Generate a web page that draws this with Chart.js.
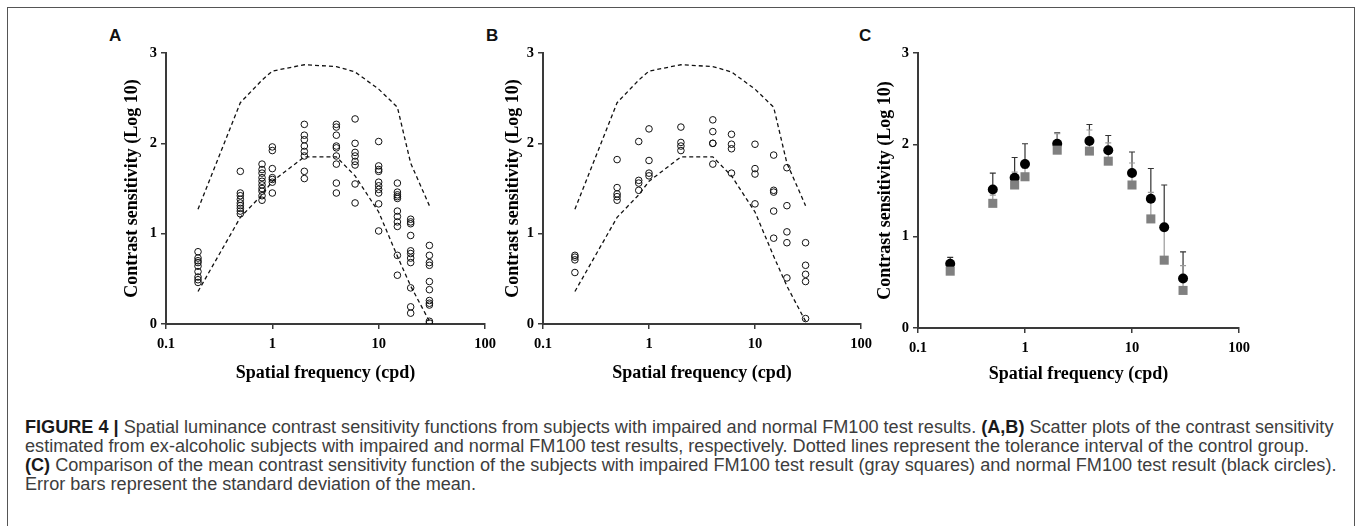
<!DOCTYPE html>
<html>
<head>
<meta charset="utf-8">
<script src="https://cdn.jsdelivr.net/npm/chart.js@4"></script>
<style>
  html, body { margin: 0; padding: 0; background: #fff; }
  body { width: 1360px; height: 526px; position: relative; overflow: hidden; }
  #frame { position: absolute; left: 7px; top: 7px; width: 1348px; height: 540px;
           border: 1.5px solid #555; box-sizing: border-box; }
  canvas { position: absolute; }
  .letter { position: absolute; font: bold 17px "Liberation Sans", Arial, sans-serif;
            line-height: 17px; color: #111; }
  #caption { position: absolute; left: 25px; top: 418px; white-space: nowrap;
             font-family: "Liberation Sans", Arial, sans-serif; color: #3d3d3d; line-height: 19.1px; }
  #caption b { color: #1a1a1a; }
</style>
</head>
<body>
<div id="frame"></div>
<div class="letter" style="left:109px; top:27px">A</div>
<div class="letter" style="left:486px; top:27px">B</div>
<div class="letter" style="left:859px; top:27px">C</div>
<canvas id="chartA" width="420" height="350" style="left:90px; top:40px"></canvas>
<canvas id="chartB" width="419" height="350" style="left:467px; top:40px"></canvas>
<canvas id="chartC" width="422" height="354" style="left:842px; top:40px"></canvas>
<div id="caption">
<b>FIGURE 4 |</b> Spatial luminance contrast sensitivity functions from subjects with impaired and normal FM100 test results. <b>(A,B)</b> Scatter plots of the contrast sensitivity<br>
estimated from ex-alcoholic subjects with impaired and normal FM100 test results, respectively. Dotted lines represent the tolerance interval of the control group.<br>
<b>(C)</b> Comparison of the mean contrast sensitivity function of the subjects with impaired FM100 test result (gray squares) and normal FM100 test result (black circles).<br>
Error bars represent the standard deviation of the mean.
</div>
<script>
// spatial frequencies (cpd) and axis ticks
const freqs = [0.2, 0.5, 0.8, 1, 2, 4, 6, 10, 15, 20, 30];
const xTicks = [0.1, 1, 10, 100];
const yTicks = [0, 1, 2, 3];

// tolerance interval of the control group (dotted lines)
const upperLimit = [1.27, 2.45, 2.70, 2.80, 2.87, 2.85, 2.79, 2.60, 2.40, 1.78, 1.31];
const lowerLimit = [0.36, 1.18, 1.43, 1.58, 1.85, 1.85, 1.64, 1.24, 0.75, 0.42, 0.03];

// A: impaired FM100, one list per frequency
const scatterA = [
  [0.80, 0.73, 0.70, 0.68, 0.64, 0.58, 0.52, 0.49, 0.46],
  [1.69, 1.45, 1.42, 1.38, 1.34, 1.31, 1.28, 1.25, 1.22],
  [1.77, 1.71, 1.67, 1.62, 1.58, 1.54, 1.50, 1.47, 1.42, 1.37],
  [1.96, 1.92, 1.72, 1.62, 1.60, 1.57, 1.45],
  [2.21, 2.09, 2.04, 1.97, 1.91, 1.86, 1.69, 1.61],
  [2.21, 2.18, 2.09, 1.97, 1.95, 1.86, 1.77, 1.56, 1.45],
  [2.27, 2.00, 1.90, 1.86, 1.80, 1.76, 1.55, 1.34],
  [2.02, 1.75, 1.71, 1.69, 1.57, 1.53, 1.49, 1.45, 1.33, 1.03],
  [1.56, 1.46, 1.43, 1.41, 1.39, 1.25, 1.19, 1.13, 1.08, 0.76, 0.54],
  [1.16, 1.13, 1.11, 0.98, 0.81, 0.78, 0.73, 0.68, 0.40, 0.19, 0.12],
  [0.87, 0.76, 0.68, 0.65, 0.47, 0.38, 0.26, 0.23, 0.21, 0.03, 0.01]
];

// B: normal FM100
const scatterB = [
  [0.76, 0.74, 0.71, 0.57],
  [1.82, 1.51, 1.44, 1.41, 1.37],
  [2.02, 1.59, 1.56, 1.48],
  [2.16, 1.81, 1.67, 1.64],
  [2.18, 2.01, 1.97, 1.92],
  [2.26, 2.13, 2.00, 2.00, 1.77],
  [2.10, 1.99, 1.94, 1.67],
  [1.99, 1.72, 1.66, 1.33],
  [1.87, 1.48, 1.46, 1.25, 0.95],
  [1.73, 1.31, 1.02, 0.90, 0.51],
  [0.90, 0.65, 0.55, 0.47, 0.06]
];

// C: group means and SD
const normalMean   = [0.70, 1.51, 1.64, 1.79, 2.01, 2.04, 1.94, 1.69, 1.41, 1.10, 0.54];
const normalSD     = [0.07, 0.18, 0.22, 0.22, 0.12, 0.18, 0.16, 0.23, 0.33, 0.46, 0.29];
const impairedMean = [0.62, 1.36, 1.56, 1.65, 1.94, 1.93, 1.82, 1.56, 1.19, 0.74, 0.41];
const impairedSD   = [0.09, 0.09, 0.14, 0.09, 0.18, 0.23, 0.20, 0.24, 0.29, 0.32, 0.27];

const axisColor = '#3a3a3a';
const tickFont = {family: 'Liberation Serif', weight: 'bold', size: 14.5};
const titleFont = {family: 'Liberation Serif', weight: 'bold', size: 18};

function toPoints(xs, ys){
    return xs.map((x, i) => ({x: x, y: ys[i]}));
}

function columnPoints(cols){
    const pts = [];
    freqs.forEach((f, i) => cols[i].forEach(v => pts.push({x: f, y: v})));
    return pts;
}

// upward error bars, drawn under the markers
const errorBars = {
    id: 'errorBars',
    beforeDatasetsDraw(chart){
        const {ctx, scales: {x, y}} = chart;
        for(let i = chart.data.datasets.length - 1; i >= 0; i--){
            const ds = chart.data.datasets[i];
            if(!ds.sd) continue;
            ctx.save();
            ctx.strokeStyle = ds.barColor;
            ctx.lineWidth = 1.2;
            ds.data.forEach((p, j) => {
                const px = x.getPixelForValue(p.x);
                const y0 = y.getPixelForValue(p.y);
                const y1 = y.getPixelForValue(p.y + ds.sd[j]);
                ctx.beginPath();
                ctx.moveTo(px, y0);
                ctx.lineTo(px, y1);
                ctx.moveTo(px - 3, y1);
                ctx.lineTo(px + 3, y1);
                ctx.stroke();
            });
            ctx.restore();
        }
    }
};

function makeScales(titlePad, xTitlePad){
    return {
        x: {
            type: 'logarithmic', min: 0.1, max: 100,
            afterBuildTicks: s => { s.ticks = xTicks.map(v => ({value: v})); },
            afterFit: s => { s.height = 66; },
            ticks: {callback: v => String(v), font: tickFont, color: '#000', padding: 7,
                    maxRotation: 0, autoSkip: false},
            grid: {drawOnChartArea: false, tickLength: 5, color: axisColor, lineWidth: 1.5},
            border: {color: axisColor, width: 2},
            title: {display: true, text: 'Spatial frequency (cpd)', font: titleFont, color: '#000',
                    padding: {top: 0, bottom: xTitlePad}}
        },
        y: {
            min: 0, max: 3,
            afterBuildTicks: s => { s.ticks = yTicks.map(v => ({value: v})); },
            afterFit: s => { s.width = 76; },
            ticks: {font: tickFont, color: '#000', padding: 4},
            grid: {drawOnChartArea: false, tickLength: 5, color: axisColor, lineWidth: 1.5},
            border: {color: axisColor, width: 2},
            title: {display: true, text: 'Contrast sensitivity (Log 10)', font: titleFont, color: '#000',
                    padding: {top: titlePad, bottom: 0}}
        }
    };
}

function limitLine(values){
    return {
        data: toPoints(freqs, values), showLine: true, borderColor: '#111', borderWidth: 1.3,
        borderDash: [4, 3], pointRadius: 0, fill: false
    };
}

function createScatter(id, cols, titlePad){
    new Chart(document.getElementById(id), {
        type: 'scatter',
        data: {
            datasets: [
                {data: columnPoints(cols), pointStyle: 'circle', pointRadius: 3.3,
                 pointBorderWidth: 1, borderColor: '#111', backgroundColor: 'rgba(0,0,0,0)'},
                limitLine(upperLimit),
                limitLine(lowerLimit)
            ]
        },
        options: {
            responsive: false, animation: false, events: [], devicePixelRatio: 1,
            layout: {padding: {top: 13, right: 25, left: 0, bottom: 0}},
            plugins: {legend: {display: false}, tooltip: {enabled: false}},
            scales: makeScales(titlePad, 6)
        }
    });
}

createScatter('chartA', scatterA, 32);
createScatter('chartB', scatterB, 35.5);

new Chart(document.getElementById('chartC'), {
    type: 'scatter',
    data: {
        datasets: [
            {data: toPoints(freqs, impairedMean), sd: impairedSD, barColor: '#9a9a9a',
             pointStyle: 'rect', pointRadius: 6.4, borderWidth: 0,
             backgroundColor: '#808080', borderColor: '#808080'},
            {data: toPoints(freqs, normalMean), sd: normalSD, barColor: '#333',
             pointStyle: 'circle', pointRadius: 5, borderWidth: 0,
             backgroundColor: '#000', borderColor: '#000'}
        ]
    },
    options: {
        responsive: false, animation: false, events: [], devicePixelRatio: 1,
        layout: {padding: {top: 13, right: 25, left: 0, bottom: 0}},
        plugins: {legend: {display: false}, tooltip: {enabled: false}},
        scales: makeScales(33, 9)
    },
    plugins: [errorBars]
});

// fit caption so the first line spans the same width as in the figure
(function fitCaption(){
    const cap = document.getElementById('caption');
    const c = document.createElement('canvas').getContext('2d');
    const first = 'FIGURE 4 | Spatial luminance contrast sensitivity functions from subjects with impaired and normal FM100 test results. (A,B) Scatter plots of the contrast sensitivity';
    c.font = '100px "Liberation Sans"';
    const w = c.measureText(first).width;
    cap.style.fontSize = (1307 / w * 100).toFixed(2) + 'px';
})();
</script>
</body>
</html>
